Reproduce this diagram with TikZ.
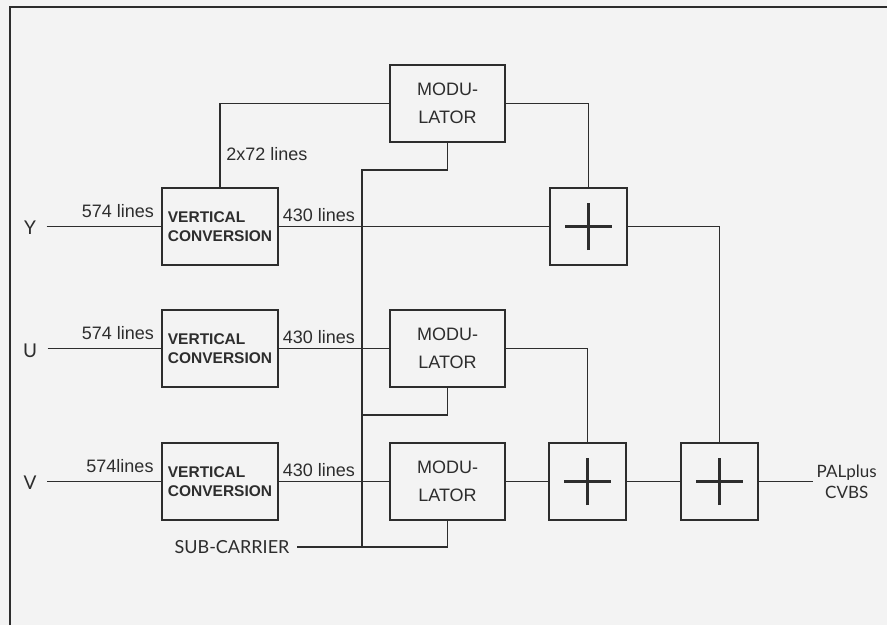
\documentclass[tikz,border=0pt]{standalone}
\usepackage{fontspec}
\setmainfont{Liberation Sans}
\newfontfamily\gillfont{Lato}
\usetikzlibrary{positioning}
\definecolor{paper}{RGB}{243,243,243}
\definecolor{ink}{RGB}{45,45,45}

\tikzset{
  block/.style={draw,rectangle,minimum width=116,minimum height=77,inner sep=0pt},
  conv/.style={block,align=left,font=\bfseries\fontsize{15.5}{18.5}\selectfont},
  modbox/.style={block,minimum width=115,align=center,font=\fontsize{18}{28}\selectfont},
  adder/.style={block,minimum width=77},
  lbl/.style={font=\fontsize{18}{22}\selectfont,inner sep=1pt},
  sig/.style={font=\gillfont\fontsize{19}{22}\selectfont,inner sep=1pt,align=center},
  plus/.style={line width=2.4pt}
}

\begin{document}
\begin{tikzpicture}[x=1pt,y=-1pt,line width=1.4pt,color=ink]

\useasboundingbox (0,0) rectangle (887,625);
\fill[paper] (0,0) rectangle (887,625);
\draw (10,625) -- (10,7) -- (887,7);

% Inputs
\node[sig] (Ylab) at (30,228) {Y};
\node[sig] (Ulab) at (30,351) {U};
\node[sig] (Vlab) at (30,483) {V};

% Vertical conversion
\node[conv] (vcY) at (220,226.5) {VERTICAL\\CONVERSION};
\node[conv] (vcU) at (220,348.5) {VERTICAL\\CONVERSION};
\node[conv] (vcV) at (220,481.5) {VERTICAL\\CONVERSION};

% Modulators
\node[modbox] (modA) at (447.5,103.5) {MODU-\\LATOR};
\node[modbox] (modU) at (447.5,348.5) {MODU-\\LATOR};
\node[modbox] (modV) at (447.5,481.5) {MODU-\\LATOR};

% Adders
\node[adder] (addY) at (588.5,226.5) {};
\node[adder] (addUV) at (587.5,481.5) {};
\node[adder] (addOut) at (719.5,481.5) {};
\foreach \a in {addY,addUV,addOut}
  \draw[plus] ([xshift=-23.5pt]\a.center) -- ([xshift=23.5pt]\a.center)
              ([yshift=-23.5pt]\a.center) -- ([yshift=23.5pt]\a.center);

% Labels
\node[lbl] (inY) at (118,211) {574 lines};
\node[lbl] (inU) at (118,333) {574 lines};
\node[lbl] (inV) at (120,466) {574lines};
\node[lbl] (outY) at (319,215) {430 lines};
\node[lbl] (outU) at (319,337) {430 lines};
\node[lbl] (outV) at (319,470) {430 lines};
\node[lbl] (helper) at (267,154) {2x72 lines};
\node[sig,font=\gillfont\fontsize{18}{22}\selectfont] (sub) at (232,547) {SUB-CARRIER};
\node[sig,font=\gillfont\fontsize{17}{21}\selectfont,anchor=west,inner sep=3pt] (cvbs) at (813,481.5) {PALplus\\CVBS};

% Sub-carrier bus
\coordinate (busTop) at (362,170);
\coordinate (busU) at (362,415);
\coordinate (busV) at (362,547);

% Connections
\draw[shorten <=9pt] (Ylab.east |- vcY.west) -- (vcY.west);
\draw[shorten <=9pt] (Ulab.east |- vcU.west) -- (vcU.west);
\draw[shorten <=9pt] (Vlab.east |- vcV.west) -- (vcV.west);
\draw (vcY.east) -- (addY.west);
\draw (vcY.north) |- (modA.west);
\draw (modA.east) -| (addY.north);
\draw (addY.east) -| (addOut.north);
\draw (vcU.east) -- (modU.west);
\draw (modU.east) -| (addUV.north);
\draw (vcV.east) -- (modV.west);
\draw (modV.east) -- (addUV.west);
\draw (addUV.east) -- (addOut.west);
\draw (addOut.east) -- (cvbs.west);
\draw[shorten <=6pt] (sub.east) -| (modV.south);
\draw (busV) -- (busTop) -| (modA.south);
\draw (busU) -| (modU.south);

\end{tikzpicture}
\end{document}
